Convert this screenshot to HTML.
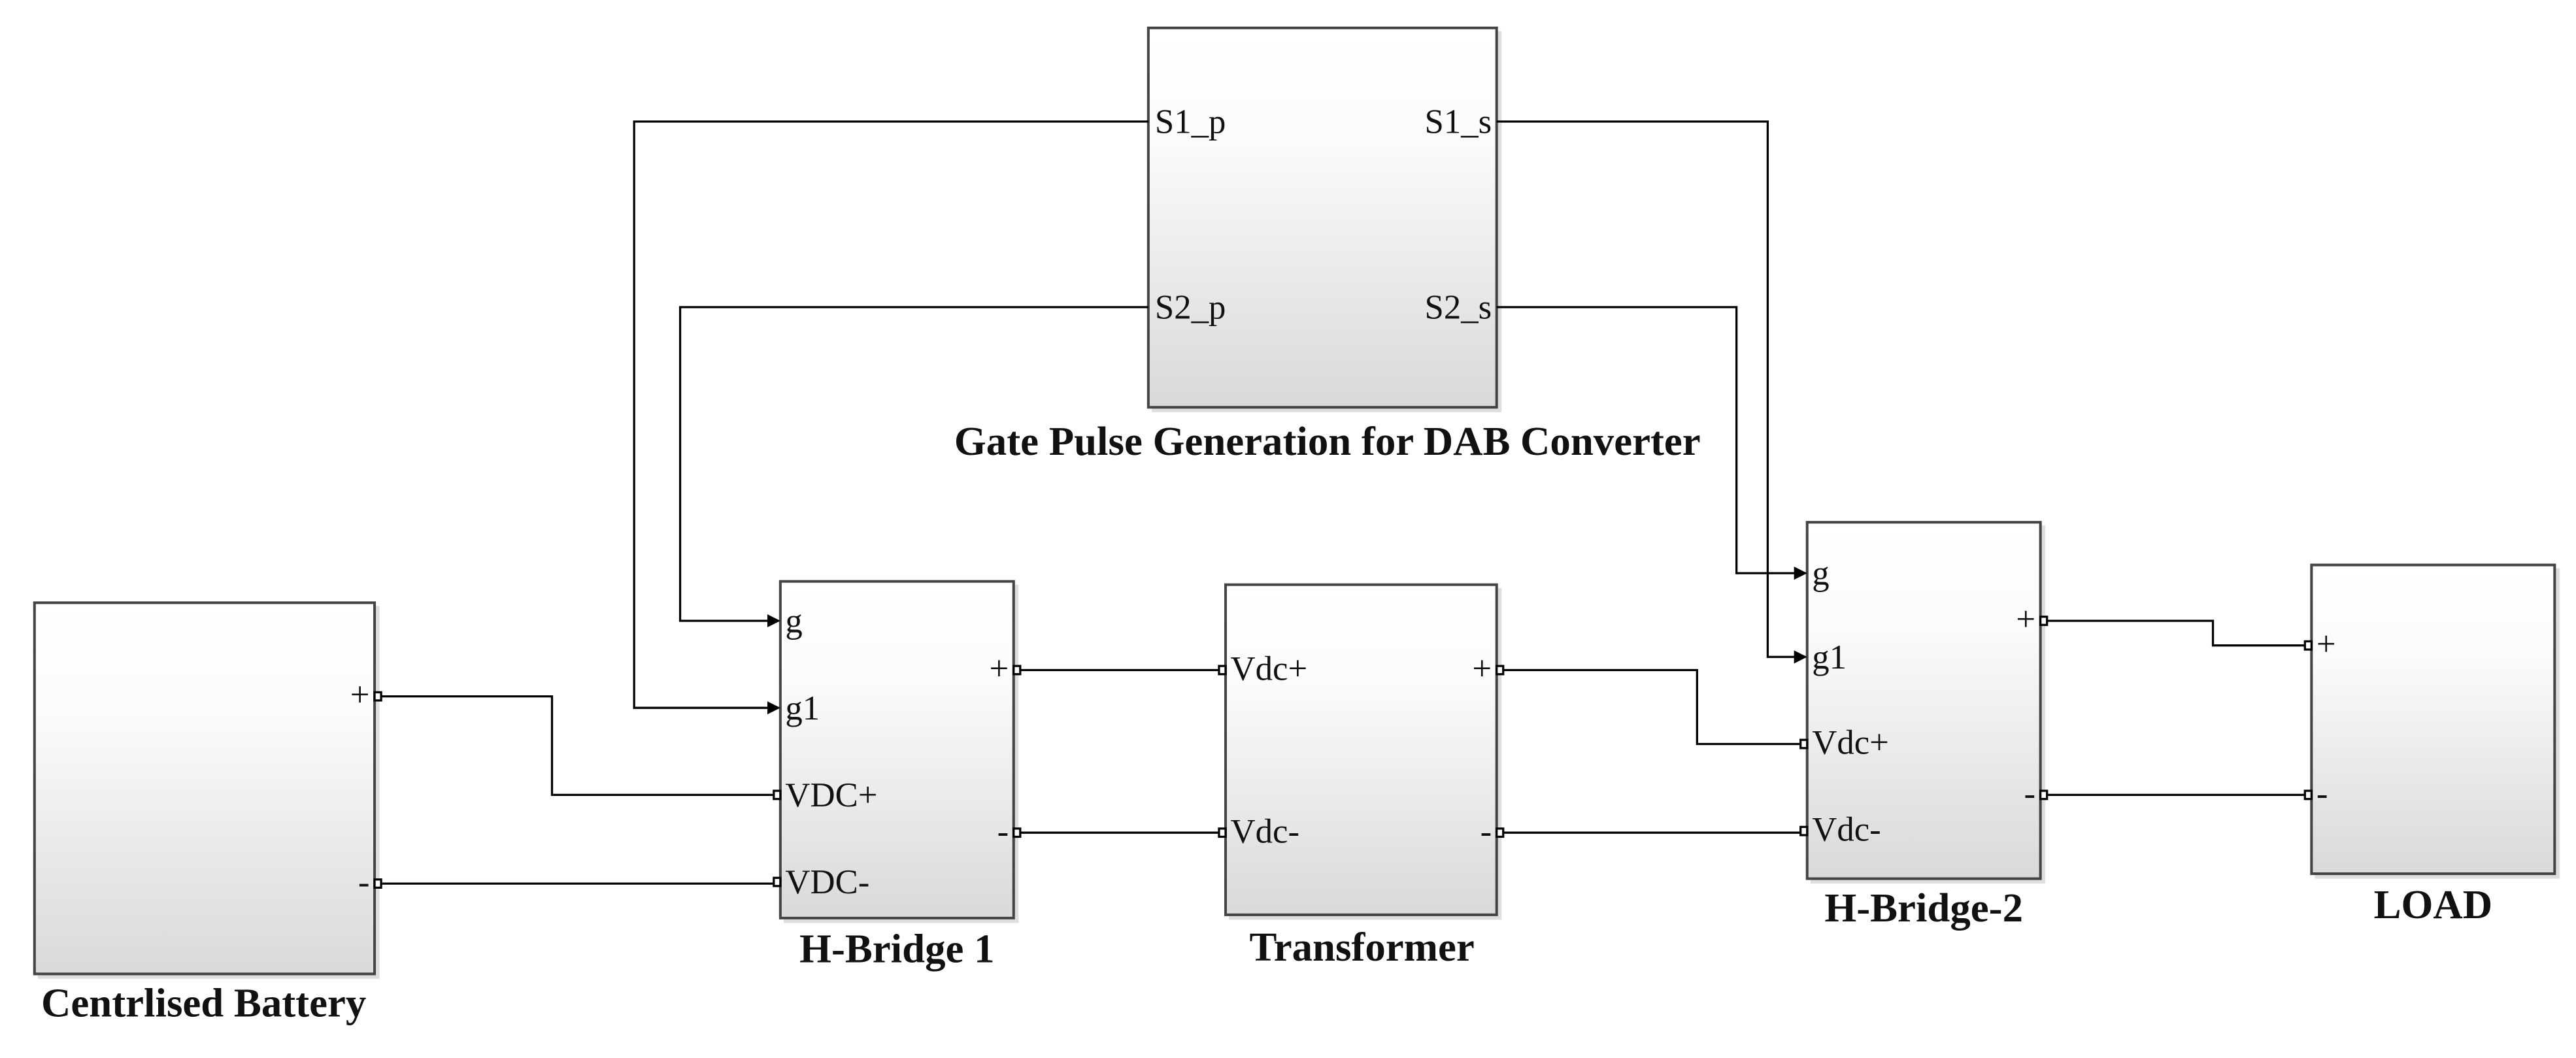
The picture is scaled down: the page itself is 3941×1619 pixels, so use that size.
<!DOCTYPE html>
<html><head><meta charset="utf-8"><style>
html,body{margin:0;padding:0;background:#fff;}
svg{display:block;}
text{font-family:"Liberation Serif",serif;fill:#111;}
.pl{font-size:21px;}
.bl{font-size:25px;font-weight:bold;}
</style></head><body>
<svg width="3941" height="1619" viewBox="0 0 1568 644.2" preserveAspectRatio="none" xmlns="http://www.w3.org/2000/svg">
<defs>
<linearGradient id="g" x1="0" y1="0" x2="0" y2="1">
<stop offset="0" stop-color="#ffffff"/><stop offset="0.3" stop-color="#fbfbfb"/><stop offset="1" stop-color="#d9d9d9"/>
</linearGradient>
<marker id="a" markerWidth="8" markerHeight="8" refX="7" refY="4" orient="auto" markerUnits="userSpaceOnUse">
<path d="M0,0 L8,4 L0,8 z" fill="#000"/></marker>
</defs>
<g fill="#c8c8c8" opacity="0.6">
<rect x="23" y="369" width="208" height="227"/>
<rect x="477" y="356" width="143" height="206"/>
<rect x="748" y="358" width="166" height="202"/>
<rect x="701" y="19" width="213" height="232"/>
<rect x="1102" y="320" width="143" height="218"/>
<rect x="1409" y="346" width="149" height="189"/>
</g>
<g fill="url(#g)" stroke="#444" stroke-width="1.6">
<rect x="21" y="367" width="207" height="226"/>
<rect x="475" y="354" width="142" height="205"/>
<rect x="746" y="356" width="165" height="201"/>
<rect x="699" y="17" width="212" height="231"/>
<rect x="1100" y="318" width="142" height="217"/>
<rect x="1407" y="344" width="148" height="188"/>
</g>
<g fill="none" stroke="#000" stroke-width="1.3">
<polyline points="699,74 386,74 386,431 474,431" marker-end="url(#a)"/>
<polyline points="699,187 414,187 414,378 474,378" marker-end="url(#a)"/>
<polyline points="911,74 1076,74 1076,400 1099,400" marker-end="url(#a)"/>
<polyline points="911,187 1057,187 1057,349 1099,349" marker-end="url(#a)"/>
<polyline points="231,424 336,424 336,484 472,484"/>
<polyline points="231,538 472,538"/>
<polyline points="620,408 743,408"/>
<polyline points="620,507 743,507"/>
<polyline points="914,408 1033,408 1033,453 1097,453"/>
<polyline points="914,507 1097,507"/>
<polyline points="1245,378 1347,378 1347,393 1404,393"/>
<polyline points="1245,484 1404,484"/>
</g>
<g fill="#fff" stroke="#000" stroke-width="1.3">
<rect x="228" y="421.5" width="4" height="5"/>
<rect x="228" y="535.5" width="4" height="5"/>
<rect x="471" y="481.5" width="4" height="5"/>
<rect x="471" y="534.5" width="4" height="5"/>
<rect x="617" y="405.5" width="4" height="5"/>
<rect x="617" y="504.5" width="4" height="5"/>
<rect x="742" y="405.5" width="4" height="5"/>
<rect x="742" y="504.5" width="4" height="5"/>
<rect x="911" y="405.5" width="4" height="5"/>
<rect x="911" y="504.5" width="4" height="5"/>
<rect x="1096" y="450.5" width="4" height="5"/>
<rect x="1096" y="503.5" width="4" height="5"/>
<rect x="1242" y="375.5" width="4" height="5"/>
<rect x="1242" y="481.5" width="4" height="5"/>
<rect x="1403" y="390.5" width="4" height="5"/>
<rect x="1403" y="481.5" width="4" height="5"/>
</g>
<g class="pl">
<text x="703" y="81">S1_p</text>
<text x="703" y="194">S2_p</text>
<text x="908" y="81" text-anchor="end">S1_s</text>
<text x="908" y="194" text-anchor="end">S2_s</text>
<text x="478" y="385">g</text>
<text x="478" y="438">g1</text>
<text x="478" y="491">VDC+</text>
<text x="478" y="544">VDC-</text>
<text x="614" y="414" text-anchor="end">+</text>
<text x="614" y="513" text-anchor="end">-</text>
<text x="749" y="414">Vdc+</text>
<text x="749" y="513">Vdc-</text>
<text x="908" y="414" text-anchor="end">+</text>
<text x="908" y="513" text-anchor="end">-</text>
<text x="225" y="430" text-anchor="end">+</text>
<text x="225" y="544" text-anchor="end">-</text>
<text x="1103" y="356">g</text>
<text x="1103" y="407">g1</text>
<text x="1103" y="459">Vdc+</text>
<text x="1103" y="512">Vdc-</text>
<text x="1239" y="384" text-anchor="end">+</text>
<text x="1239" y="490" text-anchor="end">-</text>
<text x="1410" y="399">+</text>
<text x="1410" y="490">-</text>
</g>
<g class="bl" text-anchor="middle">
<text x="124" y="619">Centrlised Battery</text>
<text x="546" y="586">H-Bridge 1</text>
<text x="829" y="585">Transformer</text>
<text x="808" y="277">Gate Pulse Generation for DAB Converter</text>
<text x="1171" y="561">H-Bridge-2</text>
<text x="1481" y="559">LOAD</text>
</g>
</svg>
</body></html>
